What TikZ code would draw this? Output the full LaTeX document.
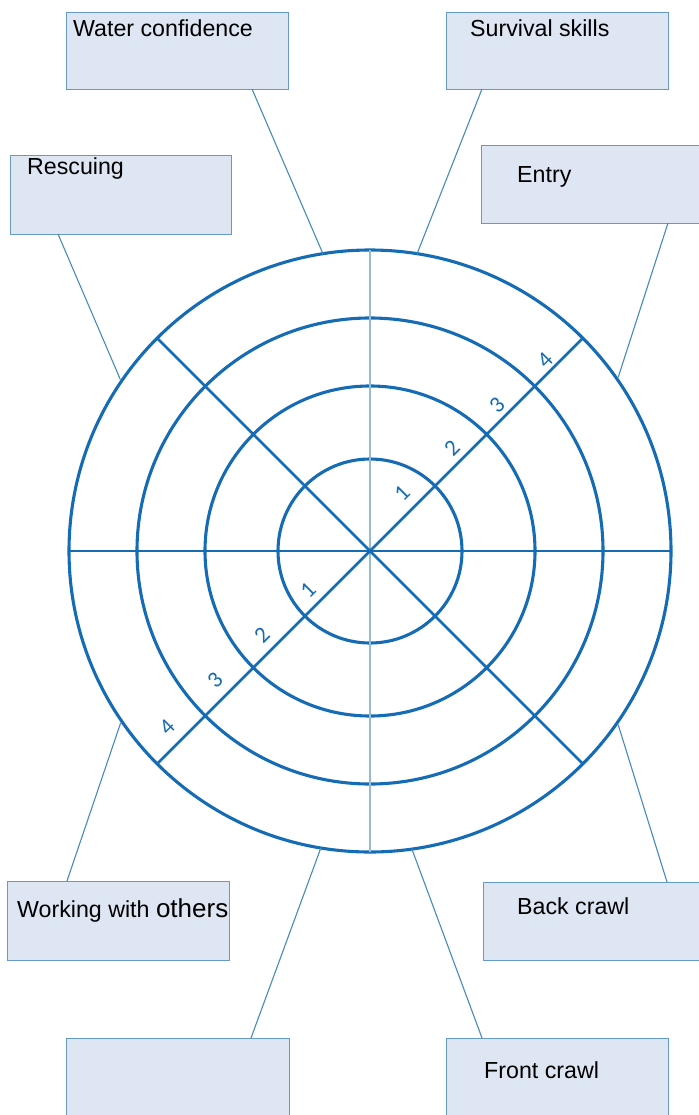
\documentclass[tikz,border=0pt]{standalone}
\usepackage{fontspec}
\setmainfont{Liberation Sans}
\newfontfamily\digitfont{Carlito}
\usetikzlibrary{calc}
\definecolor{ringblue}{RGB}{22,108,180}
\definecolor{boxfill}{RGB}{222,230,243}
\definecolor{boxline}{RGB}{100,155,200}
\definecolor{connline}{RGB}{70,138,190}
\definecolor{vline}{RGB}{150,188,212}
\tikzset{
  box/.style={draw=boxline, fill=boxfill, line width=1.1pt, anchor=north west, inner sep=0pt},
  lbl/.style={anchor=base west, inner sep=0pt, font=\fontsize{23.2}{26}\selectfont},
  ring/.style={draw=ringblue, line width=3.1pt},
  spoke/.style={draw=ringblue, line width=2.7pt},
  conn/.style={draw=connline, line width=1.1pt},
  num/.style={text=ringblue, font=\digitfont\fontsize{23}{25}\selectfont, rotate=45, inner sep=0pt}
}
\begin{document}
\begin{tikzpicture}[x=1pt,y=-1pt]
\useasboundingbox (0,0) rectangle (698,1115);
\coordinate (c) at (370,551);
% rings
\foreach \r in {92,165,233,301} \draw[ring] (c) circle[radius=\r pt];
% spokes
\draw[draw=vline, line width=1.3pt] ($(c)+(90:301pt)$) -- ($(c)+(270:301pt)$);
\draw[spoke] ($(c)+(180:301pt)$) -- ($(c)+(0:301pt)$);
\draw[spoke] ($(c)+(45:301pt)$) -- ($(c)+(225:301pt)$);
\draw[spoke] ($(c)+(135:301pt)$) -- ($(c)+(315:301pt)$);
% numbers
\node[num] (n1a) at (402,493) {1};
\node[num] (n2a) at (452,448) {2};
\node[num] (n3a) at (497,405) {3};
\node[num] (n4a) at (545,360) {4};
\node[num] (n1b) at (308,590) {1};
\node[num] (n2b) at (262,635) {2};
\node[num] (n3b) at (215,680) {3};
\node[num] (n4b) at (167,727) {4};
% boxes
\node[box, minimum width=222pt, minimum height=77pt] (wc) at (66,12) {};
\node[box, minimum width=222pt, minimum height=77pt] (ss) at (446,12) {};
\node[box, minimum width=221pt, minimum height=79pt] (rs) at (10,155) {};
\node[box, minimum width=218pt, minimum height=78pt] (en) at (481,145) {};
\node[box, minimum width=222pt, minimum height=79pt] (wo) at (7,881) {};
\node[box, minimum width=216pt, minimum height=78pt] (bc) at (483,882) {};
\node[box, minimum width=223pt, minimum height=80pt] (bl) at (66,1038) {};
\node[box, minimum width=222pt, minimum height=80pt] (fc) at (446,1038) {};
% labels
\node[lbl] (twc) at (73,37) {Water confidence};
\node[lbl] (tss) at (470,37) {Survival skills};
\node[lbl] (trs) at (27,175) {Rescuing};
\node[lbl] (ten) at (517,183) {Entry};
\node[lbl] (two) at (17,917) {Working with {\fontsize{26}{28}\selectfont others}};
\node[lbl] (tbc) at (517,914) {Back crawl};
\node[lbl] (tfc) at (484,1078) {Front crawl};
% connectors
\coordinate (wcT) at (252,89);
\coordinate (ssT) at (482,89);
\coordinate (rsT) at (58,234);
\coordinate (enT) at (668,223);
\coordinate (woT) at (67,881);
\coordinate (bcT) at (667,882);
\coordinate (blT) at (251,1038);
\coordinate (fcT) at (482,1038);
\draw[conn] (wcT) -- ($(c)+(99:301pt)$);
\draw[conn] (ssT) -- ($(c)+(81:301pt)$);
\draw[conn] (rsT) -- ($(c)+(145.5:303pt)$);
\draw[conn] (enT) -- ($(c)+(35:303pt)$);
\draw[conn] (woT) -- ($(c)+(214.6:303pt)$);
\draw[conn] (bcT) -- ($(c)+(325:303pt)$);
\draw[conn] (blT) -- ($(c)+(260.6:301pt)$);
\draw[conn] (fcT) -- ($(c)+(278:301pt)$);
\end{tikzpicture}
\end{document}
